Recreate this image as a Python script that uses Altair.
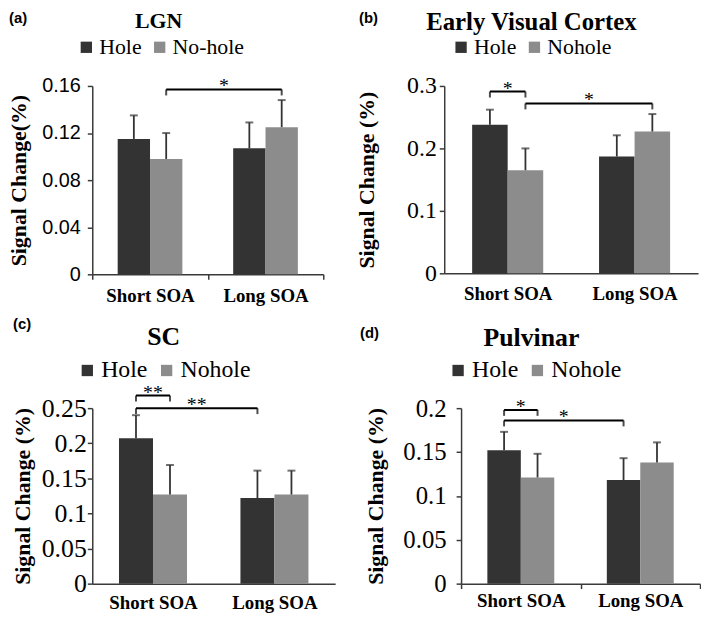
import altair as alt
import pandas as pd

# ---------------- data ----------------
panel_tags = ["(a)", "(b)", "(c)", "(d)"]
panel_titles = ["LGN", "Early Visual Cortex", "SC", "Pulvinar"]
conditions = ["Short SOA", "Long SOA"]
group_names = [["Hole", "No-hole"], ["Hole", "Nohole"], ["Hole", "Nohole"], ["Hole", "Nohole"]]

hole_mean = [[0.115, 0.107], [0.238, 0.187], [0.207, 0.122], [0.152, 0.118]]
hole_err = [[0.020, 0.022], [0.024, 0.034], [0.033, 0.039], [0.021, 0.025]]
nohole_mean = [[0.098, 0.125], [0.165, 0.227], [0.127, 0.127], [0.121, 0.138]]
nohole_err = [[0.022, 0.023], [0.035, 0.028], [0.042, 0.034], [0.027, 0.023]]

y_max = [0.16, 0.3, 0.25, 0.2]
y_ticks = [[0, 0.04, 0.08, 0.12, 0.16], [0, 0.1, 0.2, 0.3],
           [0, 0.05, 0.1, 0.15, 0.2, 0.25], [0, 0.05, 0.1, 0.15, 0.2]]
y_titles = ["Signal Change(%)", "Signal Change (%)", "Signal Change (%)", "Signal Change (%)"]

# significance brackets: (condition, group) -> (condition, group), level, label
brackets = [
    [((0, 1), (1, 1), 0.157, "*")],
    [((0, 0), (0, 1), 0.291, "*"), ((0, 1), (1, 1), 0.272, "*")],
    [((0, 0), (0, 1), 0.268, "**"), ((0, 0), (1, 0), 0.250, "**")],
    [((0, 0), (0, 1), 0.198, "*"), ((0, 0), (1, 0), 0.186, "*")],
]

# ---------------- styling ----------------
DARK = "#333333"
GRAY = "#8c8c8c"
AXIS_C = "#3a3a3a"
SERIF = "Liberation Serif, Times New Roman, DejaVu Serif, serif"
SANS = "Liberation Sans, Arial, sans-serif"
BAR_W = 0.28  # share of a condition slot taken by one bar

geo = [
    dict(W=233, H=190, tag=(-84, -76), title=(67, -58, 22), legend=(-17, -50, 22),
         E=52, P=10, lab_font=SANS, lab_size=20, lab_pad=7, xlab_pad=7, xticks=True),
    dict(W=256, H=189, tag=(-86, -76), title=(88, -56, 25), legend=(6, -50, 22),
         E=56, P=10, lab_font=SERIF, lab_size=24, lab_pad=3, xlab_pad=6, xticks=False),
    dict(W=245, H=177, tag=(-80, -92), title=(72, -64, 26), legend=(-17, -50, 24),
         E=48, P=10, lab_font=SERIF, lab_size=26, lab_pad=1, xlab_pad=5, xticks=False),
    dict(W=241, H=177, tag=(-102, -83), title=(71, -63, 26), legend=(-15, -50, 24),
         E=64, P=10, lab_font=SERIF, lab_size=25, lab_pad=10, xlab_pad=3, xticks=True),
]


def slot_center(ci, gi):
    return ci + 0.5 - BAR_W / 2 + gi * BAR_W


def build_panel(k):
    g = geo[k]
    names = group_names[k]
    rows = []
    for ci, cond in enumerate(conditions):
        for gi, (means, errs) in enumerate(((hole_mean, hole_err), (nohole_mean, nohole_err))):
            m = means[k][ci]
            c = slot_center(ci, gi)
            rows.append(dict(cond=cond, group=names[gi], x0=c - BAR_W / 2, x1=c + BAR_W / 2,
                             xc=c, mean=m, hi=m + errs[k][ci]))
    bars_df = pd.DataFrame(rows)

    brows, erows = [], []
    for (a, b, lvl, lab) in brackets[k]:
        xa, xb = slot_center(*a), slot_center(*b)
        brows.append(dict(bx0=xa, bx1=xb, mid=(xa + xb) / 2, by=lvl, label=lab))
        erows.append(dict(bx=xa, by=lvl))
        erows.append(dict(bx=xb, by=lvl))
    br_df = pd.DataFrame(brows)
    end_df = pd.DataFrame(erows)

    xscale = alt.Scale(domain=[0, 2], nice=False, zero=False)
    yscale = alt.Scale(domain=[0, y_max[k]], nice=False)
    xaxis = alt.Axis(
        values=[0, 0.5, 1, 1.5, 2],
        labelExpr="datum.value == 0.5 ? 'Short SOA' : (datum.value == 1.5 ? 'Long SOA' : '')",
        labelFont=SERIF, labelFontSize=19, labelFontWeight="bold", labelColor="black",
        labelPadding=g["xlab_pad"], labelAngle=0, grid=False,
        domainColor=AXIS_C, domainWidth=1.5, tickColor=AXIS_C, tickWidth=1.5, tickSize=5,
        tickOpacity=({"condition": {"test": "datum.value % 1 === 0", "value": 1}, "value": 0}
                     if g["xticks"] else 0),
        title=None,
    )
    yaxis = alt.Axis(
        values=y_ticks[k], labelExpr="'' + datum.value",
        labelFont=g["lab_font"], labelFontSize=g["lab_size"], labelColor="black",
        labelPadding=g["lab_pad"], grid=False,
        domainColor=AXIS_C, domainWidth=1.5, tickColor=AXIS_C, tickWidth=1.5, tickSize=5,
        title=y_titles[k], titleFont=SERIF, titleFontSize=22, titleFontWeight="bold",
        titleColor="black", titlePadding=g["P"], minExtent=g["E"], maxExtent=g["E"],
    )

    lx, ly, lsize = g["legend"]
    bars = alt.Chart(bars_df).mark_bar(strokeWidth=0).encode(
        x=alt.X("x0:Q", scale=xscale, axis=xaxis),
        x2="x1:Q",
        y=alt.Y("mean:Q", scale=yscale, axis=yaxis),
        y2=alt.datum(0),
        color=alt.Color("group:N", scale=alt.Scale(domain=names, range=[DARK, GRAY]),
                        legend=alt.Legend(orient="none", legendX=lx, legendY=ly,
                                          direction="horizontal", title=None,
                                          symbolType="square", symbolSize=130,
                                          symbolStrokeWidth=0, labelFont=SERIF,
                                          labelFontSize=lsize, labelColor="black",
                                          columnPadding=7, labelOffset=2)),
    )
    err = alt.Chart(bars_df).mark_rule(color=DARK, strokeWidth=1.8).encode(
        x=alt.X("xc:Q", scale=xscale, axis=xaxis),
        y=alt.Y("mean:Q", scale=yscale, axis=yaxis),
        y2="hi:Q",
    )
    cap = alt.Chart(bars_df).mark_tick(color=DARK, orient="horizontal", size=8, thickness=2).encode(
        x=alt.X("xc:Q", scale=xscale, axis=xaxis),
        y=alt.Y("hi:Q", scale=yscale, axis=yaxis),
    )
    bar_line = alt.Chart(br_df).mark_rule(color="black", strokeWidth=2).encode(
        x=alt.X("bx0:Q", scale=xscale, axis=xaxis),
        x2="bx1:Q",
        y=alt.Y("by:Q", scale=yscale, axis=yaxis),
    )
    bar_ends = alt.Chart(end_df).mark_tick(color="black", orient="vertical", size=6,
                                           thickness=2, yOffset=3).encode(
        x=alt.X("bx:Q", scale=xscale, axis=xaxis),
        y=alt.Y("by:Q", scale=yscale, axis=yaxis),
    )
    stars = alt.Chart(br_df).mark_text(font=SERIF, fontSize=20, color="black",
                                       baseline="alphabetic", dy=3).encode(
        x=alt.X("mid:Q", scale=xscale, axis=xaxis),
        y=alt.Y("by:Q", scale=yscale, axis=yaxis),
        text="label:N",
    )
    tx, ty = g["tag"]
    tag = alt.Chart(pd.DataFrame({"t": [panel_tags[k]]})).mark_text(
        font=SANS, fontSize=15, fontWeight="bold", align="left", baseline="top", color="black"
    ).encode(x=alt.value(tx), y=alt.value(ty), text="t:N")
    hx, hy, hs = g["title"]
    title = alt.Chart(pd.DataFrame({"t": [panel_titles[k]]})).mark_text(
        font=SERIF, fontSize=hs, fontWeight="bold", align="center", baseline="alphabetic",
        color="black"
    ).encode(x=alt.value(hx), y=alt.value(hy), text="t:N")

    return alt.layer(bars, err, cap, bar_line, bar_ends, stars, tag, title).properties(
        width=g["W"], height=g["H"]
    )


panels = [build_panel(k) for k in range(4)]
row1 = alt.hconcat(panels[0], panels[1], spacing=32).resolve_scale(
    x="independent", y="independent", color="independent").resolve_legend(color="independent")
row2 = alt.hconcat(panels[2], panels[3], spacing=25).resolve_scale(
    x="independent", y="independent", color="independent").resolve_legend(color="independent")

chart = alt.vconcat(row1, row2, spacing=12).resolve_scale(
    x="independent", y="independent", color="independent").resolve_legend(
    color="independent").properties(padding=0).configure(
    background="white", padding=0, view=alt.ViewConfig(stroke=None))

chart.save("out.html", embed_options={"renderer": "svg", "actions": False})
